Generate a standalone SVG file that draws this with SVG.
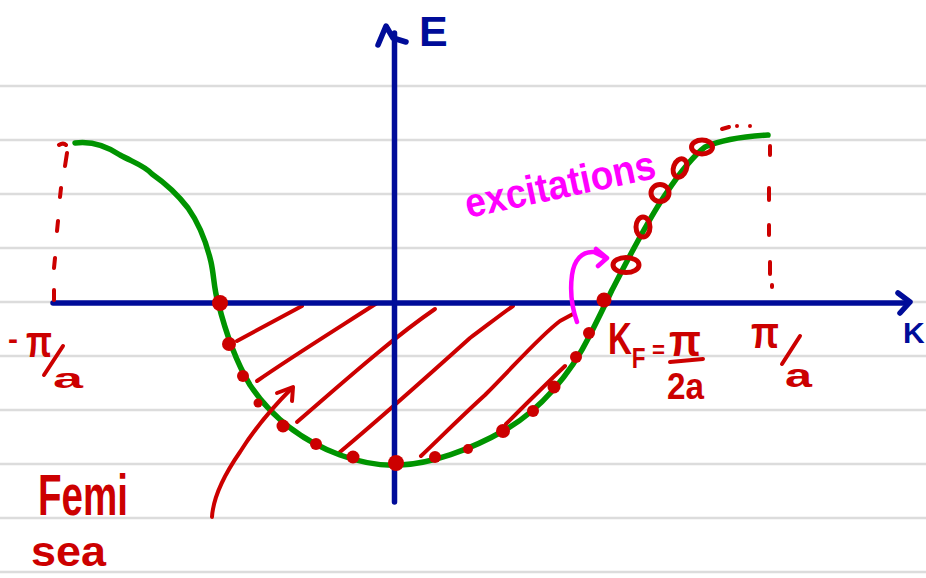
<svg xmlns="http://www.w3.org/2000/svg" width="926" height="578" viewBox="0 0 926 578">
<style>
.rule{stroke:#dcdcdc;stroke-width:2.5}
.blue{stroke:#000c99;fill:none;stroke-width:5.5;stroke-linecap:round;stroke-linejoin:round}
.red{stroke:#cc0000;fill:none;stroke-width:4;stroke-linecap:round;stroke-linejoin:round}
.green{stroke:#009400;fill:none;stroke-width:5.5;stroke-linecap:round;stroke-linejoin:round}
.mag{stroke:#ff00ff;fill:none;stroke-width:4.5;stroke-linecap:round;stroke-linejoin:round}
.dot{fill:#cc0000}
.ring{stroke:#cc0000;fill:none;stroke-width:5}
.t{font-family:"Liberation Sans",Arial,sans-serif;font-weight:bold}
.tr{fill:#cc0000}
</style>
<rect width="926" height="578" fill="#ffffff"/>
<g id="ruled-paper">
<line class="rule" x1="0" y1="86" x2="926" y2="86"/>
<line class="rule" x1="0" y1="140" x2="926" y2="140"/>
<line class="rule" x1="0" y1="194" x2="926" y2="194"/>
<line class="rule" x1="0" y1="248" x2="926" y2="248"/>
<line class="rule" x1="0" y1="302" x2="926" y2="302"/>
<line class="rule" x1="0" y1="356" x2="926" y2="356"/>
<line class="rule" x1="0" y1="410" x2="926" y2="410"/>
<line class="rule" x1="0" y1="464" x2="926" y2="464"/>
<line class="rule" x1="0" y1="518" x2="926" y2="518"/>
<line class="rule" x1="0" y1="572" x2="926" y2="572"/>
</g>
<g id="hatching">
<path class="red" d="M237,341 L302,306"/>
<path class="red" d="M257,381 C290,358 335,330 377,303"/>
<path class="red" d="M297,422 C340,385 390,340 435,309"/>
<path class="red" d="M340,452 C390,410 440,365 470,338 C485,327 500,315 513,306"/>
<path class="red" d="M421,456 C445,433 463,415 485,395 C515,365 540,336 560,321 L573,314"/>
<path class="red" d="M506,424 C525,405 545,385 565,366"/>
</g>
<g id="axes">
<line class="blue" x1="394.5" y1="33" x2="394.5" y2="502"/>
<path class="blue" d="M378,45 L386,26 L393,38 L406,42"/>
<line class="blue" x1="53" y1="303" x2="908" y2="303"/>
<path class="blue" d="M898,293 L910,302 L900,313"/>
<text class="t" x="419" y="46" font-size="43" fill="#000c99">E</text>
<text class="t" x="903" y="343" font-size="30" fill="#000c99">K</text>
</g>
<g id="bounds">
<path class="red" d="M59,145 C62,143 64,143 66,145 M67,153 L65,166 M61,188 L60,197 M58,221 L57,231 M55,258 L54,268 M54,290 L54,300"/>
<path class="red" d="M770,146 L770,155 M769,188 L769,200 M769,225 L769,235 M770,262 L770,274 M772,285 L772,287"/>
<path class="red" d="M722,129 L729,127 M737,126 L737,126 M750,126 L750,126"/>
</g>
<g id="band">
<path class="green" d="M75,143 C90,141 105,145 120,155 C135,163 145,166 152,174 C165,183 178,195 188,208 C200,225 207,245 211,262 C214,275 214,290 218,302 C225,330 235,360 250,385 C270,415 300,440 340,455 C365,464 385,466 400,465 C430,464 470,450 505,430 C540,410 570,375 590,335 C600,315 605,305 612,290 C625,265 645,225 665,195 C673,183 688,160 705,147 C725,138 750,136 768,135"/>
</g>
<g id="filled-states">
<circle class="dot" cx="220" cy="303" r="8"/>
<circle class="dot" cx="229" cy="344" r="7"/>
<circle class="dot" cx="243" cy="376" r="6"/>
<circle class="dot" cx="258" cy="403" r="4.5"/>
<circle class="dot" cx="283" cy="426" r="6.5"/>
<circle class="dot" cx="316" cy="444" r="6"/>
<circle class="dot" cx="353" cy="457" r="6.5"/>
<circle class="dot" cx="396" cy="463" r="8"/>
<circle class="dot" cx="435" cy="457" r="6"/>
<circle class="dot" cx="468" cy="449" r="5"/>
<circle class="dot" cx="503" cy="431" r="7"/>
<circle class="dot" cx="533" cy="411" r="6"/>
<circle class="dot" cx="554" cy="387" r="6.5"/>
<circle class="dot" cx="576" cy="357" r="6"/>
<circle class="dot" cx="589" cy="333" r="6"/>
<circle class="dot" cx="604" cy="300" r="7.5"/>
</g>
<g id="excited-states">
<ellipse class="ring" cx="626" cy="265" rx="13" ry="7.5"/>
<ellipse class="ring" cx="643" cy="227" rx="7" ry="10"/>
<ellipse class="ring" cx="660" cy="193" rx="9" ry="8.5"/>
<ellipse class="ring" cx="680" cy="168" rx="6.5" ry="9.5" transform="rotate(20 680 168)"/>
<ellipse class="ring" cx="702" cy="147" rx="10.5" ry="7"/>
</g>
<g id="excitations-label">
<text class="t" x="468" y="218" font-size="41" fill="#ff00ff" textLength="194" lengthAdjust="spacingAndGlyphs" transform="rotate(-12 468 218)">excitations</text>
<path class="mag" d="M577,322 C571,305 570,290 572,275 C574,260 582,251 594,252 L604,257"/>
<path class="mag" d="M596,249 L607,258 L598,266"/>
</g>
<g id="fermi-sea-label">
<path class="red" d="M212,517 C213,500 222,478 240,452 C255,428 275,405 292,388"/>
<path class="red" d="M277,393 L293,387 L292,401"/>
<text class="t tr" x="38" y="515" font-size="58" textLength="90" lengthAdjust="spacingAndGlyphs">Femi</text>
<text class="t tr" x="31" y="566" font-size="42" textLength="75" lengthAdjust="spacingAndGlyphs">sea</text>
</g>
<g id="k-labels">
<text class="t tr" x="8" y="349" font-size="30">-</text>
<text class="t tr" x="26" y="357" font-size="44" textLength="26" lengthAdjust="spacingAndGlyphs">π</text>
<path class="red" d="M44,375 L63,346"/>
<text class="t tr" x="53" y="388" font-size="28" textLength="30" lengthAdjust="spacingAndGlyphs">a</text>
<text class="t tr" x="751" y="348" font-size="44" textLength="28" lengthAdjust="spacingAndGlyphs">π</text>
<path class="red" d="M782,364 L800,336"/>
<text class="t tr" x="785" y="387" font-size="34" textLength="27" lengthAdjust="spacingAndGlyphs">a</text>
<text class="t tr" font-size="44" transform="translate(608,354) scale(0.75,1)">K<tspan dy="14" font-size="30">F</tspan></text>
<text class="t tr" x="652" y="358" font-size="24" textLength="13" lengthAdjust="spacingAndGlyphs">=</text>
<text class="t tr" x="669" y="356" font-size="44" textLength="32" lengthAdjust="spacingAndGlyphs">π</text>
<path class="red" d="M670,362 L703,359"/>
<text class="t tr" x="667" y="399" font-size="36" textLength="37" lengthAdjust="spacingAndGlyphs">2a</text>
</g>
</svg>
